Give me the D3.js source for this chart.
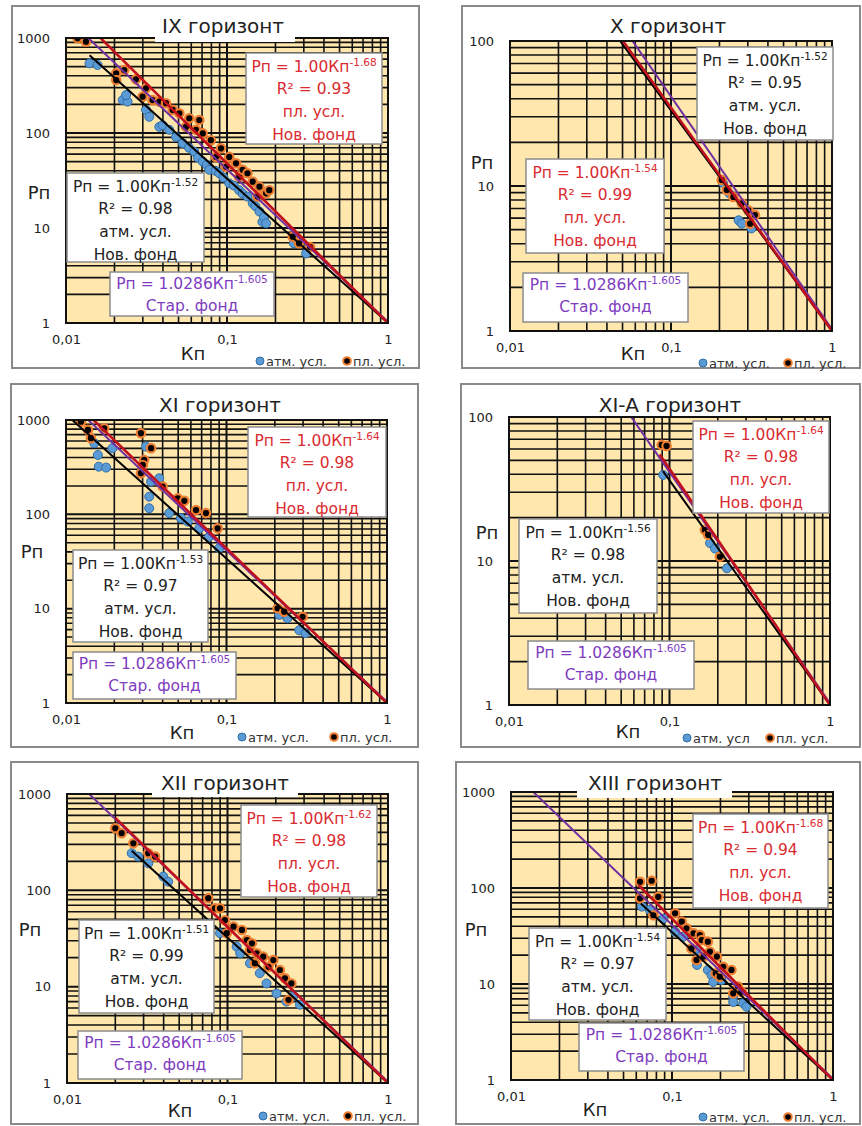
<!DOCTYPE html>
<html>
<head>
<meta charset="utf-8">
<script src="https://cdn.jsdelivr.net/npm/d3@7"></script>
<style>
  body { margin: 0; background: #fff; }
  svg { display: block; }
  text { font-family: "DejaVu Sans", sans-serif; }
</style>
</head>
<body>
<svg id="chart" width="862" height="1126"></svg>
<script>
// ---- data: [Кп, Рп] pairs ----
var ixAtm = [[0.0140,541],[0.0157,520],[0.0225,222],[0.0241,214],[0.0236,251],[0.0314,175],[0.0329,148],
  [0.038,116],[0.0398,121],[0.0438,108],[0.0483,91],[0.0531,78],[0.058,70],[0.0626,63.6],[0.066,55],
  [0.0707,50],[0.075,46],[0.0776,41],[0.085,40],[0.0895,37.7],[0.095,34],[0.1033,29.5],[0.11,28],
  [0.119,25],[0.125,23],[0.134,21.4],[0.1445,18.2],[0.15,17],[0.159,14.9],[0.166,11.6],[0.17,13],
  [0.175,11.2],[0.26,6.9],[0.31,5.4]];
var ixPl = [[0.0118,993],[0.0133,914],[0.0205,425],[0.0230,460],[0.0205,361],[0.0272,367],[0.0299,241],
  [0.0314,296],[0.0345,222],[0.038,214],[0.0418,206],[0.046,175],[0.0506,161],[0.0556,116],[0.0583,143],
  [0.0642,108],[0.0673,137],[0.0707,99],[0.0794,84],[0.0855,56],[0.0918,69],[0.0986,44],[0.1033,56],
  [0.1138,48],[0.119,34.7],[0.125,41],[0.134,37.7],[0.1445,30.7],[0.155,21.4],[0.159,27.2],[0.175,23.2],
  [0.183,25],[0.256,8.1],[0.28,6.9],[0.328,6.3]];
var xAtm = [[0.21,10.5],[0.23,8.9],[0.263,5.8],[0.275,5.5],[0.316,5.1]];
var xPl = [[0.2065,11.0],[0.222,9.4],[0.244,8.4],[0.275,7.6],[0.302,6.8],[0.332,6.3],[0.31,5.5]];
var xiAtm = [[0.015,567],[0.0195,503],[0.0158,426],[0.016,320],[0.0178,313],[0.0315,523],[0.0381,241],
  [0.0339,222],[0.033,154],[0.033,116],[0.044,103],[0.052,91],[0.0574,84],[0.0677,71],[0.078,58],
  [0.090,43.7],[0.213,8.6],[0.24,7.9],[0.284,5.9],[0.31,5.5]];
var xiPl = [[0.0124,961],[0.0137,785],[0.0173,818],[0.0143,641],[0.0293,725],[0.0339,503],[0.0307,377],
  [0.0301,334],[0.0293,273],[0.04,197],[0.0497,148],[0.0546,139],[0.0646,111],[0.0745,103],[0.0881,71],
  [0.208,10.1],[0.229,9.3],[0.298,8.2]];
var xiaAtm = [[0.0913,39.6],[0.179,13.3],[0.192,12.2],[0.228,8.9]];
var xiaPl = [[0.0894,64],[0.0959,63],[0.166,16.4],[0.174,15.2],[0.206,10.7]];
var xiiAtm = [[0.0253,243],[0.0278,224],[0.0321,191],[0.0398,139],[0.0427,123],[0.0742,45.5],[0.0898,35.9],
  [0.114,26],[0.12,22.2],[0.138,17.5],[0.159,13.8],[0.175,10.8],[0.202,8.5],[0.233,7.0],[0.256,7.9],[0.283,6.5]];
var xiiPl = [[0.02,441],[0.0219,392],[0.0259,308],[0.0321,243],[0.0354,224],[0.0759,83],[0.0836,65],
  [0.0898,65],[0.0964,49],[0.099,35.9],[0.109,42],[0.123,38.8],[0.132,30.5],[0.138,24],[0.142,28.2],
  [0.148,17.5],[0.152,22.2],[0.167,20.5],[0.18,16.1],[0.193,18.9],[0.212,14.9],[0.228,12.2],[0.24,7.3],[0.25,10.8]];
var xiiiAtm = [[0.065,64],[0.0728,59],[0.0884,48],[0.1045,35],[0.117,31],[0.142,22.6],[0.143,15.8],
  [0.149,19.3],[0.167,14],[0.176,12.4],[0.18,10.5],[0.203,11],[0.24,7.4],[0.24,6.5],[0.277,6.3],[0.29,5.8]];
var xiiiPl = [[0.0633,116],[0.0748,119],[0.0633,78],[0.0821,81],[0.0766,52],[0.1045,54.5],[0.115,44.6],
  [0.123,38],[0.132,23.5],[0.136,33.7],[0.142,17.8],[0.149,32.4],[0.153,28.7],[0.157,19.3],[0.167,27.6],
  [0.172,21.7],[0.187,12.9],[0.19,19.3],[0.198,11.9],[0.208,15.1],[0.234,14],[0.24,8],[0.257,9.4],[0.27,8.3]];

var horizons = ["IX горизонт", "X горизонт", "XI горизонт", "XI-A горизонт", "XII горизонт", "XIII горизонт"];
var atmSets = [ixAtm, xAtm, xiAtm, xiaAtm, xiiAtm, xiiiAtm];
var plSets = [ixPl, xPl, xiPl, xiaPl, xiiPl, xiiiPl];
var yMax = [1000, 100, 1000, 100, 1000, 1000];

// trend lines: Рп = a·Кп^-b
var atmCoef = [1.00, 1.00, 1.00, 1.00, 1.00, 1.00];
var atmExp = [1.52, 1.52, 1.53, 1.56, 1.51, 1.54];
var atmR2 = [0.98, 0.95, 0.97, 0.98, 0.99, 0.97];
var atmStart = [0.014, 0.01, 0.01, 0.091, 0.0253, 0.064];
var plCoef = [1.00, 1.00, 1.00, 1.00, 1.00, 1.00];
var plExp = [1.68, 1.54, 1.64, 1.64, 1.62, 1.68];
var plR2 = [0.93, 0.99, 0.98, 0.98, 0.98, 0.94];
var plStart = [0.0118, 0.01, 0.0124, 0.087, 0.02, 0.062];
var oldCoef = 1.0286, oldExp = 1.605, oldStart = 0.01;

var xTicks = [0.01, 0.1, 1];
var xTickLabels = ["0,01", "0,1", "1"];
var legendLabels = [["атм. усл.", "пл. усл."], ["атм. усл.", "пл. усл."], ["атм. усл.", "пл. усл."],
  ["атм. усл", "пл. усл."], ["атм. усл.", "пл. усл."], ["атм. усл.", "пл. усл."]];

// ---- layout (page pixels) ----
var layout = [
  {frame:[12,6,407,362], plot:[66,38,322,285], title:[223,33], tbox:[155,17,140,25], kp:[193,354], pn:[39,193],
   leg:[260,361,347], red:[246,53,136,91], black:[67,173,137,89], purple:[110,272,164,44]},
  {frame:[462,6,398,362], plot:[510,41,322,290], title:[668,33], tbox:[598,15,140,24], kp:[633,354], pn:[482,163],
   leg:[703,363,788], red:[526,159,138,94], black:[697,47,136,93], purple:[523,273,165,49]},
  {frame:[11,384,407,363], plot:[66,420,321,283], title:[220,412], tbox:[150,392,140,24], kp:[182,733], pn:[32,552],
   leg:[242,737,334], red:[248,427,138,90], black:[73,550,135,92], purple:[73,652,163,47]},
  {frame:[461,384,399,363], plot:[509,417,321,288], title:[670,412], tbox:[590,392,160,24], kp:[628,732], pn:[487,533],
   leg:[687,738,770], red:[693,421,136,92], black:[519,519,138,94], purple:[528,641,166,48]},
  {frame:[11,762,407,362], plot:[67,794,321,289], title:[225,790], tbox:[152,772,146,25], kp:[180,1111], pn:[30,930],
   leg:[263,1116,348], red:[241,805,136,92], black:[79,920,135,93], purple:[78,1031,164,48]},
  {frame:[456,762,404,362], plot:[511,792,322,288], title:[655,790], tbox:[577,773,155,25], kp:[595,1110], pn:[476,930],
   leg:[703,1117,788], red:[693,814,135,94], black:[529,928,137,92], purple:[579,1023,165,48]}
];

var redText = "#D92B30", purpleText = "#7E3CC0", darkText = "#222";

var svg = d3.select("#chart");

function gridValues(lo, hi) {
  var v = [];
  for (var p = lo; p < hi * 0.999; p *= 10)
    for (var k = 1; k < 10; k++) v.push({v: k * p, major: k === 1});
  v.push({v: hi, major: true});
  return v;
}

function eqBox(g, r, color, eq, sup, rest) {
  g.append("rect")
    .attr("x", r[0]).attr("y", r[1]).attr("width", r[2]).attr("height", r[3])
    .attr("fill", "#fff").attr("stroke", "#8c8c8c").attr("stroke-width", 1.5);
  var cx = r[0] + r[2] / 2;
  var step = rest.length > 1 ? 22.7 : 22;
  var top = r[1] + (rest.length > 1 ? 13 : 11.5);
  var t0 = g.append("text")
    .attr("x", cx).attr("y", top).attr("dy", "0.36em")
    .attr("text-anchor", "middle").attr("fill", color)
    .style("font-size", "15.5px");
  t0.append("tspan").text(eq);
  t0.append("tspan").attr("dy", -6).style("font-size", "10.5px").text(sup);
  rest.forEach(function (s, i) {
    g.append("text")
      .attr("x", cx).attr("y", top + (i + 1) * step).attr("dy", "0.36em")
      .attr("text-anchor", "middle").attr("fill", color)
      .style("font-size", "15.5px")
      .text(s);
  });
}

layout.forEach(function (L, i) {
  var g = svg.append("g");
  var p = L.plot;

  // outer frame
  g.append("rect")
    .attr("x", L.frame[0]).attr("y", L.frame[1]).attr("width", L.frame[2]).attr("height", L.frame[3])
    .attr("fill", "#fff").attr("stroke", "#8a8a8a").attr("stroke-width", 2);

  var x = d3.scaleLog().domain([0.01, 1]).range([p[0], p[0] + p[2]]);
  var y = d3.scaleLog().domain([1, yMax[i]]).range([p[1] + p[3], p[1]]);

  g.append("clipPath").attr("id", "clip" + i)
    .append("rect").attr("x", p[0]).attr("y", p[1]).attr("width", p[2]).attr("height", p[3]);

  // plot background
  g.append("rect")
    .attr("x", p[0]).attr("y", p[1]).attr("width", p[2]).attr("height", p[3])
    .attr("fill", "#FFE7AE");

  // log grid
  var grid = g.append("g");
  grid.selectAll(".gx").data(gridValues(0.01, 1)).enter().append("line")
    .attr("x1", function (d) { return x(d.v); }).attr("x2", function (d) { return x(d.v); })
    .attr("y1", p[1]).attr("y2", p[1] + p[3])
    .attr("stroke", "#111").attr("stroke-width", function (d) { return d.major ? 2 : 1.6; });
  grid.selectAll(".gy").data(gridValues(1, yMax[i])).enter().append("line")
    .attr("y1", function (d) { return y(d.v); }).attr("y2", function (d) { return y(d.v); })
    .attr("x1", p[0]).attr("x2", p[0] + p[2])
    .attr("stroke", "#111").attr("stroke-width", function (d) { return d.major ? 2 : 1.6; });

  // points
  var pts = g.append("g").attr("clip-path", "url(#clip" + i + ")");
  pts.selectAll(".atm").data(atmSets[i]).enter().append("circle")
    .attr("cx", function (d) { return x(d[0]); })
    .attr("cy", function (d) { return y(d[1]); })
    .attr("r", 4.5)
    .attr("fill", "#5B9BD5").attr("stroke", "#2F6EA8").attr("stroke-width", 1);
  pts.selectAll(".pl").data(plSets[i]).enter().append("circle")
    .attr("cx", function (d) { return x(d[0]); })
    .attr("cy", function (d) { return y(d[1]); })
    .attr("r", 4.2)
    .attr("fill", "#000").attr("stroke", "#ED7D31").attr("stroke-width", 2.2);

  // trend lines
  var line = d3.line()
    .x(function (d) { return x(d[0]); })
    .y(function (d) { return y(d[1]); });
  var fits = [
    {a: atmCoef[i], b: atmExp[i], s: atmStart[i], c: "#000", w: 2},
    {a: oldCoef, b: oldExp, s: oldStart, c: "#7030A0", w: 2},
    {a: plCoef[i], b: plExp[i], s: plStart[i], c: "#C0101E", w: 2.6}
  ];
  var lines = g.append("g").attr("clip-path", "url(#clip" + i + ")");
  fits.forEach(function (f) {
    lines.append("path")
      .datum([[f.s, f.a * Math.pow(f.s, -f.b)], [1, f.a]])
      .attr("d", line)
      .attr("fill", "none").attr("stroke", f.c).attr("stroke-width", f.w);
  });

  // plot border
  g.append("rect")
    .attr("x", p[0]).attr("y", p[1]).attr("width", p[2]).attr("height", p[3])
    .attr("fill", "none").attr("stroke", "#111").attr("stroke-width", 2);

  // title
  g.append("rect")
    .attr("x", L.tbox[0]).attr("y", L.tbox[1]).attr("width", L.tbox[2]).attr("height", L.tbox[3])
    .attr("fill", "#fff");
  g.append("text")
    .attr("x", L.title[0]).attr("y", L.title[1])
    .attr("text-anchor", "middle").attr("fill", darkText)
    .style("font-size", "20px")
    .text(horizons[i]);

  // annotation boxes
  eqBox(g, L.red, redText, "Рп = " + plCoef[i].toFixed(2) + "Кп", "-" + plExp[i].toFixed(2),
    ["R² = " + plR2[i].toFixed(2), "пл. усл.", "Нов. фонд"]);
  eqBox(g, L.black, darkText, "Рп = " + atmCoef[i].toFixed(2) + "Кп", "-" + atmExp[i].toFixed(2),
    ["R² = " + atmR2[i].toFixed(2), "атм. усл.", "Нов. фонд"]);
  eqBox(g, L.purple, purpleText, "Рп = " + oldCoef + "Кп", "-" + oldExp, ["Стар. фонд"]);

  // axes (labels only)
  var ax = g.append("g")
    .attr("transform", "translate(0," + (p[1] + p[3]) + ")")
    .call(d3.axisBottom(x).tickValues(xTicks)
      .tickFormat(function (d, k) { return xTickLabels[k]; })
      .tickSize(0).tickPadding(12));
  ax.select(".domain").remove();
  ax.selectAll("text").attr("fill", darkText).style("font-size", "13px").style("font-family", "DejaVu Sans");

  var yTicks = gridValues(1, yMax[i]).filter(function (d) { return d.major; }).map(function (d) { return d.v; });
  var ay = g.append("g")
    .attr("transform", "translate(" + p[0] + ",0)")
    .call(d3.axisLeft(y).tickValues(yTicks).tickFormat(d3.format("d"))
      .tickSize(0).tickPadding(16));
  ay.select(".domain").remove();
  ay.selectAll("text").attr("fill", darkText).style("font-size", "13px").style("font-family", "DejaVu Sans");

  g.append("text")
    .attr("x", L.kp[0]).attr("y", L.kp[1]).attr("dy", "0.36em")
    .attr("text-anchor", "middle").attr("fill", darkText)
    .style("font-size", "18px").text("Кп");
  g.append("text")
    .attr("x", L.pn[0]).attr("y", L.pn[1]).attr("dy", "0.36em")
    .attr("text-anchor", "middle").attr("fill", darkText)
    .style("font-size", "18px").text("Рп");

  // legend
  var lg = L.leg;
  g.append("circle").attr("cx", lg[0]).attr("cy", lg[1]).attr("r", 4)
    .attr("fill", "#5B9BD5").attr("stroke", "#2F6EA8").attr("stroke-width", 1);
  g.append("text").attr("x", lg[0] + 6).attr("y", lg[1]).attr("dy", "0.36em")
    .attr("fill", "#333").style("font-size", "13px").text(legendLabels[i][0]);
  g.append("circle").attr("cx", lg[2]).attr("cy", lg[1]).attr("r", 3.8)
    .attr("fill", "#000").attr("stroke", "#ED7D31").attr("stroke-width", 2);
  g.append("text").attr("x", lg[2] + 6).attr("y", lg[1]).attr("dy", "0.36em")
    .attr("fill", "#333").style("font-size", "13px").text(legendLabels[i][1]);
});
</script>
</body>
</html>
